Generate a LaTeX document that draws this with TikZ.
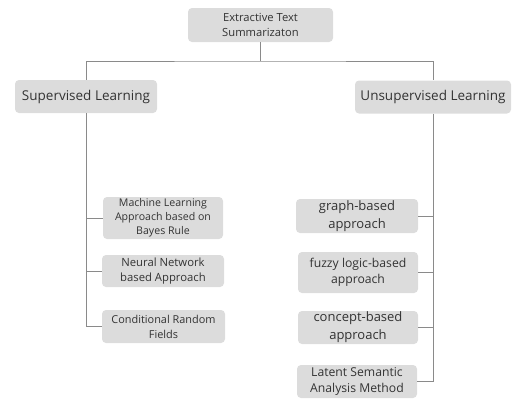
\documentclass[tikz,border=0pt]{standalone}
\usepackage{fontspec}
\setmainfont{Open Sans}
\definecolor{boxfill}{HTML}{DCDCDC}
\definecolor{txt}{HTML}{333333}
\definecolor{ln}{HTML}{8A8A8A}
\begin{document}
\begin{tikzpicture}[x=1pt,y=-1pt,
  box/.style={fill=boxfill,rounded corners=4pt,inner sep=0pt,align=center,text=txt},
  conn/.style={draw=ln,line width=0.9pt}]
\useasboundingbox (0,0) rectangle (512,399);
\node[box,minimum width=145pt,minimum height=34pt,font=\fontsize{11.2}{15}\selectfont] (top) at (260.5,25) {Extractive Text\\Summarizaton};
\node[box,minimum width=142pt,minimum height=33pt,font=\fontsize{13.5}{16}\selectfont] (sup) at (86,96.5) {Supervised Learning};
\node[box,minimum width=156pt,minimum height=33pt,font=\fontsize{13.5}{16}\selectfont] (unsup) at (433,97) {Unsupervised Learning};
% supervised children
\node[box,minimum width=120pt,minimum height=42pt,font=\fontsize{10.6}{14}\selectfont] (s1) at (163,218) {Machine Learning\\Approach based on\\Bayes Rule};
\node[box,minimum width=122pt,minimum height=32pt,font=\fontsize{11.3}{15}\selectfont] (s2) at (163,271) {Neural Network\\based Approach};
\node[box,minimum width=123pt,minimum height=33pt,font=\fontsize{10.9}{15}\selectfont] (s3) at (163.5,326.5) {Conditional Random\\Fields};
% unsupervised children
\node[box,minimum width=122pt,minimum height=34pt,font=\fontsize{13}{17.5}\selectfont] (u1) at (357,216) {graph-based\\approach};
\node[box,minimum width=120pt,minimum height=41pt,font=\fontsize{12.2}{16.5}\selectfont] (u2) at (358,272.5) {fuzzy logic-based\\approach};
\node[box,minimum width=120pt,minimum height=33pt,font=\fontsize{13}{18}\selectfont] (u3) at (358,327.5) {concept-based\\approach};
\node[box,minimum width=120pt,minimum height=33pt,font=\fontsize{12.2}{16}\selectfont] (u4) at (357,381.5) {Latent Semantic\\Analysis Method};
% connectors
\coordinate (hub) at (260.5,61);
\draw[conn] (top.south) -- (hub);
\draw[conn] (sup.north) |- (hub) -| (unsup.north);
\draw[conn] (sup.south) |- (s3.west);
\draw[conn] (sup.south |- s1.west) -- (s1.west);
\draw[conn] (sup.south |- s2.west) -- (s2.west);
\draw[conn] (unsup.south) |- (u4.east);
\draw[conn] (unsup.south |- u1.east) -- (u1.east);
\draw[conn] (unsup.south |- u2.east) -- (u2.east);
\draw[conn] (unsup.south |- u3.east) -- (u3.east);
\end{tikzpicture}
\end{document}
